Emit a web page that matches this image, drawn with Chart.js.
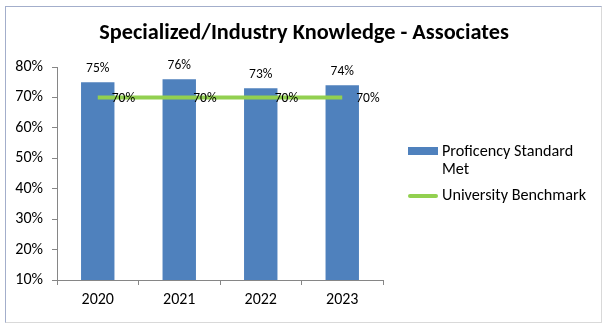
<!DOCTYPE html>
<html>
<head>
<meta charset="utf-8">
<script src="https://cdn.jsdelivr.net/npm/chart.js@4"></script>
<style>
  body { margin: 0; background: #fff; }
  #wrap { position: relative; width: 608px; height: 327px; }
  #frame { position: absolute; left: 5px; top: 6px; width: 595px; height: 315px;
           border-left: 1px solid #a3aecb; border-top: 1px solid #a3aecb;
           border-right: 1px solid #d9d9d9; border-bottom: 1px solid #d9d9d9; pointer-events: none; }
  #title { position: absolute; left: 0; width: 608px; top: 18px; text-align: center;
           font-family: Carlito, Lato, sans-serif; font-weight: bold; font-size: 22.3px; line-height: 28px; color: #000; }
  #legend { position: absolute; left: 408px; top: 142px; font-family: Carlito, Lato, sans-serif; font-size: 16.2px; color: #000; }
  .item { display: flex; align-items: flex-start; margin-bottom: 8px; }
  .sw { width: 30px; flex: none; margin-right: 4px; }
  .txt { width: 160px; line-height: 18px; }
</style>
</head>
<body>
<div id="wrap">
  <canvas id="myChart" width="608" height="327"></canvas>
  <div id="frame"></div>
  <div id="title"></div>
  <div id="legend"></div>
</div>
<script>
const chartTitle = 'Specialized/Industry Knowledge - Associates';
const years = ['2020', '2021', '2022', '2023'];
const proficiency = [75, 76, 73, 74];
const benchmark = [70, 70, 70, 70];
const yTicks = [10, 20, 30, 40, 50, 60, 70, 80];

const blue = '#4f81bd';
const green = '#92d050';
const font = 'Carlito, Lato, sans-serif';

// simple data labels: bars above, line points to the right
const valueLabels = {
    id: 'valueLabels',
    afterDatasetsDraw(chart) {
        const c = chart.ctx;
        c.save();
        c.font = '13.5px ' + font;
        c.fillStyle = '#000';
        c.textBaseline = 'middle';
        chart.data.datasets.forEach((ds, i) => {
            const meta = chart.getDatasetMeta(i);
            meta.data.forEach((el, j) => {
                const txt = ds.data[j] + '%';
                if (ds.type === 'line') {
                    c.textAlign = 'left';
                    c.fillText(txt, el.x + 14, el.y + 1);
                } else {
                    c.textAlign = 'center';
                    c.fillText(txt, el.x, el.y - 14);
                }
            });
        });
        c.restore();
    }
};

const ctx = document.getElementById('myChart');
const myChart = new Chart(ctx, {
    type: 'bar',
    data: {
        labels: years,
        datasets: [{
            type: 'line',
            label: 'University Benchmark',
            data: benchmark,
            borderColor: green,
            backgroundColor: green,
            borderWidth: 4,
            pointRadius: 0,
            order: 0
        }, {
            type: 'bar',
            label: 'Proficency Standard Met',
            data: proficiency,
            backgroundColor: blue,
            categoryPercentage: 1,
            barPercentage: 0.41,
            order: 1
        }]
    },
    options: {
        responsive: false,
        animation: false,
        layout: { padding: { left: 0, right: 225, top: 67, bottom: 0 } },
        plugins: {
            legend: { display: false },
            tooltip: { enabled: false }
        },
        scales: {
            y: {
                min: 10,
                max: 80,
                afterBuildTicks: (scale) => { scale.ticks = yTicks.map(v => ({ value: v })); },
                afterFit: (scale) => { scale.width = 57; },
                ticks: {
                    color: '#000',
                    font: { family: font, size: 16 },
                    padding: 9,
                    callback: (v) => v + '%'
                },
                grid: { drawOnChartArea: false, drawTicks: true, tickLength: 5, color: '#868686' },
                border: { color: '#868686' }
            },
            x: {
                afterFit: (scale) => { scale.height = 47; },
                ticks: {
                    color: '#000',
                    font: { family: font, size: 16 },
                    padding: 5
                },
                grid: { drawOnChartArea: false, drawTicks: true, tickLength: 5, color: '#868686', offset: true },
                border: { color: '#868686' }
            }
        }
    },
    plugins: [valueLabels]
});

document.getElementById('title').textContent = chartTitle;

// html legend built from the datasets
const legend = document.getElementById('legend');
[1, 0].forEach(i => {
    const ds = myChart.data.datasets[i];
    const item = document.createElement('div');
    item.className = 'item';
    const sw = document.createElement('div');
    sw.className = 'sw';
    if (ds.type === 'line') {
        sw.style.height = '4px';
        sw.style.marginTop = '8px';
        sw.style.background = ds.borderColor;
        sw.style.borderRadius = '2px';
    } else {
        sw.style.height = '8px';
        sw.style.marginTop = '5px';
        sw.style.background = ds.backgroundColor;
    }
    const txt = document.createElement('div');
    txt.className = 'txt';
    txt.style.width = ds.type === 'line' ? '170px' : '140px';
    txt.textContent = ds.label;
    item.appendChild(sw);
    item.appendChild(txt);
    legend.appendChild(item);
});
</script>
</body>
</html>
